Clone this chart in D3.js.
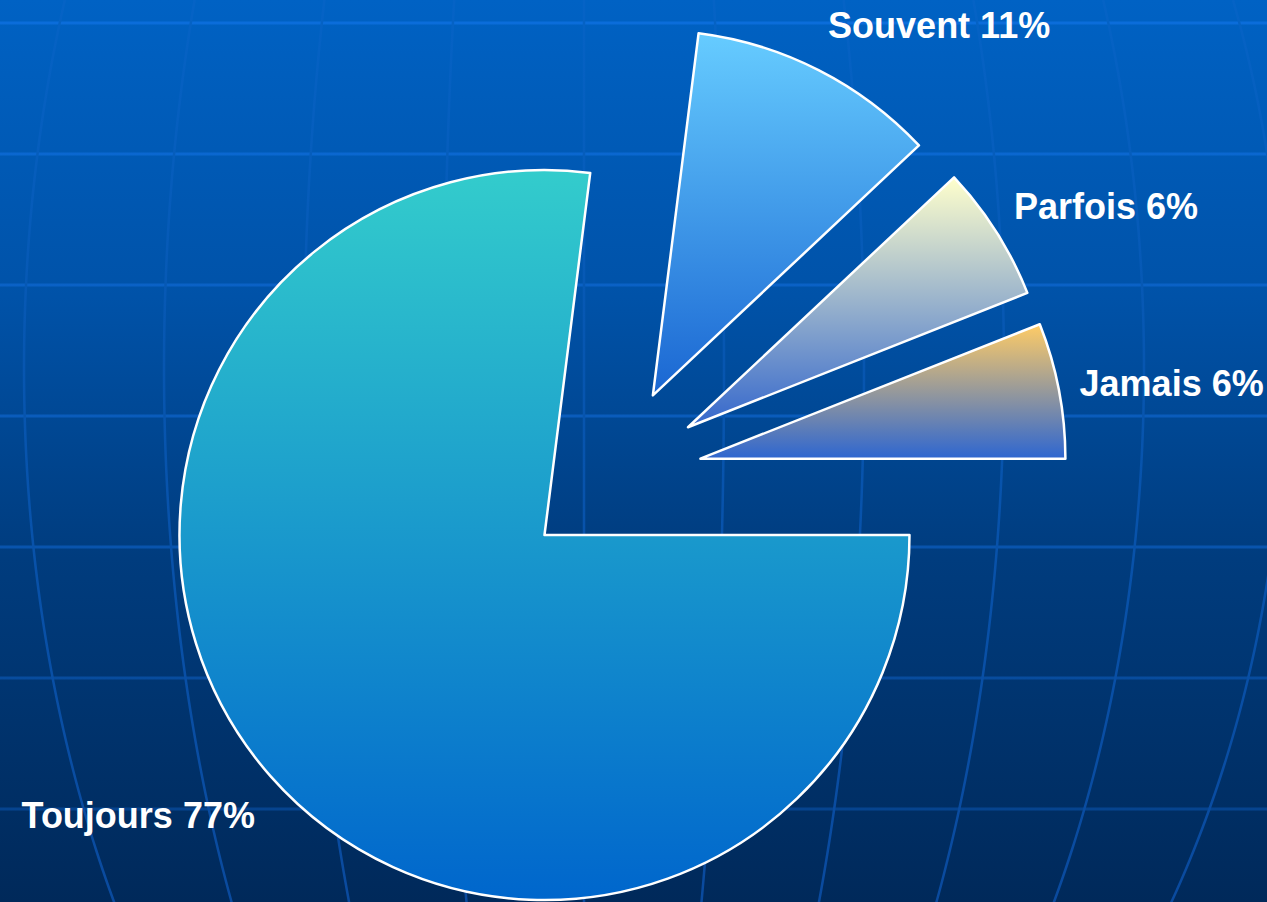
<!DOCTYPE html>
<html><head><meta charset="utf-8">
<script src="https://cdn.jsdelivr.net/npm/d3@7"></script>
<style>html,body{margin:0;padding:0;overflow:hidden;background:#003c7e}</style>
</head><body><svg id="chart" width="1267" height="902"></svg>
<script>
// ---- data ----
const categories = ["Toujours", "Souvent", "Parfois", "Jamais"];
const values = [77, 11, 6, 6];
const valueLabels = ["77%", "11%", "6%", "6%"];
const topColors = ["#33CCCC", "#66CCFF", "#FFFFCC", "#FFCC66"];
const bottomColors = ["#0066CC", "#1A66D2", "#3366CC", "#2E66D0"];
const gridRows = [0, 1, 2, 3, 4, 5, 6];
const gridCols = [-5, -4, -3, -2, -1, 0, 1, 2, 3, 4, 5];

// ---- layout ----
const W = 1267, H = 902;
const R = 365, explode = 90, cx = 612, cy = 475.5;
const svg = d3.select("#chart");
const defs = svg.append("defs");

function vGrad(id, stops, user) {
  const g = defs.append("linearGradient").attr("id", id)
    .attr("x1", 0).attr("y1", 0).attr("x2", 0).attr("y2", user ? H : 1);
  if (user) g.attr("gradientUnits", "userSpaceOnUse");
  stops.forEach(s => g.append("stop").attr("offset", s[0]).attr("stop-color", s[1]));
}
vGrad("bg", [[0, "#0062C4"], [0.33, "#0052A8"], [0.62, "#003C7E"], [1, "#00295A"]], true);
vGrad("hline", [[0, "#0B6EDC"], [0.5, "#0A5AB8"], [1, "#053E84"]], true);
vGrad("vline", [[0, "#0563C6"], [0.4, "#0756B0"], [1, "#0A4A9E"]], true);
values.forEach((v, i) => vGrad("slice" + i, [[0, topColors[i]], [1, bottomColors[i]]], false));

svg.append("rect").attr("width", W).attr("height", H).attr("fill", "url(#bg)");

// ---- background grid (globe-like) ----
const yRow = d3.scaleLinear().domain([0, 1]).range([23, 154]);
const gridG = svg.append("g");
gridG.selectAll("line.h").data(gridRows).join("line")
  .attr("x1", 0).attr("x2", W)
  .attr("y1", d => yRow(d)).attr("y2", d => yRow(d))
  .attr("stroke", "url(#hline)").attr("stroke-width", 3);

const colX = d3.scaleLinear().domain([0, 1]).range([584, 724]);
const ys = d3.range(0, H + 11, 10);
const meridian = d3.line().curve(d3.curveBasis);
gridG.selectAll("path.v").data(gridCols).join("path")
  .attr("fill", "none").attr("stroke", "url(#vline)").attr("stroke-width", 2.5)
  .attr("d", k => meridian(ys.map(y => {
    const t = (y - 368) / 982;
    return [584 + (colX(k) - 584) * Math.sqrt(1 - t * t), y];
  })));

// ---- pie ----
const pie = d3.pie().sort(null).value(d => d)
  .startAngle(Math.PI / 2).endAngle(Math.PI / 2 + 2 * Math.PI);
const arc = d3.arc().innerRadius(0).outerRadius(R);
const arcs = pie(values);

const slices = svg.append("g").selectAll("g").data(arcs).join("g")
  .attr("transform", d => {
    const m = (d.startAngle + d.endAngle) / 2;
    return `translate(${cx + explode * Math.sin(m)},${cy - explode * Math.cos(m)})`;
  });
slices.append("path")
  .attr("d", arc)
  .attr("fill", (d, i) => `url(#slice${i})`)
  .attr("stroke", "#ffffff").attr("stroke-width", 2.5).attr("stroke-linejoin", "round");

// ---- labels ----
const fs = 36, gap = 21, vShift = 33;
svg.append("g").selectAll("text").data(arcs).join("text")
  .attr("font-family", "'Liberation Sans', Arial, sans-serif")
  .attr("font-weight", "bold").attr("font-size", fs).attr("fill", "#ffffff")
  .attr("text-anchor", d => Math.sin((d.startAngle + d.endAngle) / 2) >= 0 ? "start" : "end")
  .attr("x", d => {
    const m = (d.startAngle + d.endAngle) / 2;
    return cx + (explode + R + gap) * Math.sin(m);
  })
  .attr("y", d => {
    const m = (d.startAngle + d.endAngle) / 2;
    const py = cy - (explode + R + gap) * Math.cos(m);
    return py - Math.cos(m) * vShift + fs * 0.36 + 3;
  })
  .text((d, i) => categories[i] + " " + valueLabels[i]);
</script>
</body></html>
